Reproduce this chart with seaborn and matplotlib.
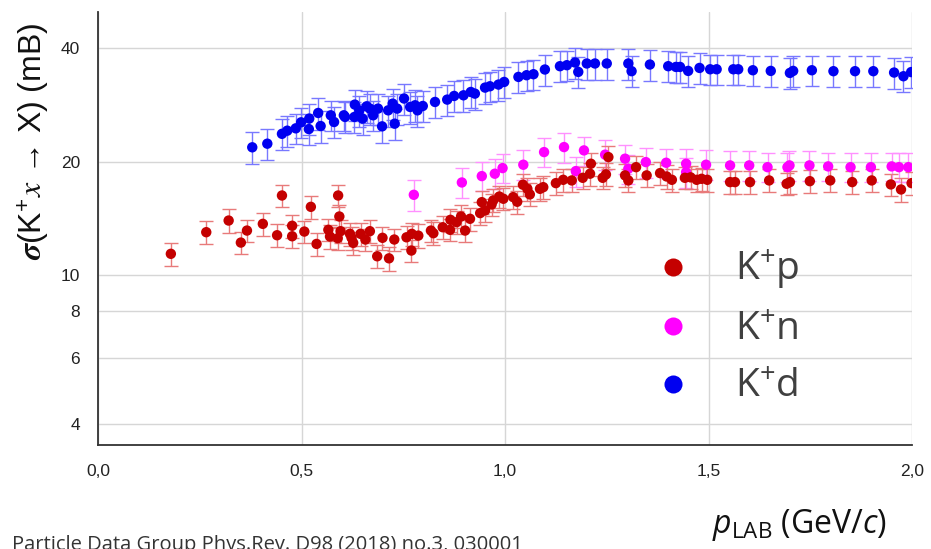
import matplotlib
matplotlib.use("Agg")
import matplotlib.pyplot as plt
import seaborn as sns
import pandas as pd
from matplotlib.lines import Line2D
from matplotlib.ticker import NullLocator

# ---------------- data ----------------
kp_x = [0.179, 0.266, 0.321, 0.351, 0.366, 0.405, 0.440, 0.452, 0.477, 0.477,
        0.507, 0.523, 0.537, 0.566, 0.570, 0.589, 0.590, 0.593, 0.596, 0.619,
        0.623, 0.627, 0.645, 0.657, 0.668, 0.686, 0.699, 0.715, 0.728, 0.758,
        0.770, 0.771, 0.787, 0.818, 0.824, 0.847, 0.865, 0.866, 0.881, 0.892,
        0.902, 0.914, 0.939, 0.943, 0.951, 0.967, 0.971, 0.986, 0.996, 1.020,
        1.030, 1.044, 1.055, 1.061, 1.086, 1.094, 1.125, 1.143, 1.164, 1.191,
        1.209, 1.211, 1.240, 1.248, 1.254, 1.295, 1.303, 1.322, 1.348, 1.381,
        1.397, 1.410, 1.442, 1.456, 1.471, 1.483, 1.497, 1.553, 1.565, 1.602,
        1.649, 1.692, 1.700, 1.749, 1.799, 1.853, 1.901, 1.948, 1.973, 1.999]
kp_y = [11.36, 12.97, 13.93, 12.17, 13.10, 13.65, 12.73, 16.24, 13.49, 12.65,
        13.02, 15.15, 12.07, 13.16, 12.63, 12.50, 16.24, 14.28, 13.05, 12.84,
        12.53, 12.15, 12.84, 12.40, 13.05, 11.19, 12.53, 11.05, 12.40, 12.57,
        11.59, 12.84, 12.70, 13.10, 12.89, 13.37, 13.16, 13.99, 13.79, 14.28,
        13.10, 14.08, 14.58, 15.59, 14.82, 15.37, 15.75, 16.14, 15.92, 16.08,
        15.63, 17.35, 16.92, 16.35, 16.92, 17.09, 17.52, 17.88, 17.81, 18.10,
        18.56, 19.73, 18.10, 18.48, 20.55, 18.37, 17.81, 19.32, 18.37, 18.63,
        18.25, 17.88, 18.10, 18.15, 17.88, 17.99, 17.88, 17.63, 17.63, 17.63,
        17.81, 17.45, 17.63, 17.73, 17.81, 17.63, 17.81, 17.38, 16.85, 17.52]
kp_err = [0.8, 0.9, 1.0, 0.85, 0.9, 0.95, 0.9, 1.1, 0.95, 0.9,
          0.9, 1.05, 0.85, 0.9, 0.9, 0.9, 1.1, 1.0, 0.9, 0.9,
          0.9, 0.85, 0.9, 0.85, 0.9, 0.8, 0.9, 0.8, 0.85, 0.9,
          0.8, 0.9, 0.9, 0.9, 0.9, 0.95, 0.9, 1.0, 0.95, 1.0,
          0.9, 1.0, 1.0, 1.1, 1.05, 1.05, 1.1, 1.1, 1.1, 1.1,
          1.1, 1.2, 1.2, 1.15, 1.2, 1.2, 1.2, 1.25, 1.25, 1.25,
          1.3, 1.4, 1.25, 1.3, 1.45, 1.3, 1.25, 1.35, 1.3, 1.3,
          1.3, 1.25, 1.25, 1.25, 1.25, 1.25, 1.25, 1.25, 1.25, 1.25,
          1.25, 1.2, 1.25, 1.25, 1.25, 1.25, 1.25, 1.2, 1.2, 1.2]

kd_x = [0.379, 0.416, 0.452, 0.465, 0.486, 0.499, 0.518, 0.519, 0.541, 0.547,
        0.572, 0.580, 0.604, 0.607, 0.630, 0.631, 0.642, 0.650, 0.660, 0.668,
        0.676, 0.688, 0.698, 0.713, 0.724, 0.729, 0.735, 0.752, 0.767, 0.779,
        0.785, 0.798, 0.828, 0.858, 0.875, 0.898, 0.916, 0.926, 0.951, 0.963,
        0.984, 0.998, 1.033, 1.053, 1.070, 1.098, 1.135, 1.152, 1.172, 1.180,
        1.201, 1.221, 1.250, 1.303, 1.311, 1.356, 1.401, 1.420, 1.430, 1.450,
        1.478, 1.504, 1.520, 1.561, 1.573, 1.609, 1.653, 1.700, 1.708, 1.754,
        1.807, 1.860, 1.905, 1.956, 1.979, 1.998]
kd_y = [21.82, 22.31, 23.70, 24.16, 24.51, 25.43, 24.40, 26.02, 26.93, 24.86,
        26.55, 25.48, 26.55, 26.28, 26.28, 28.35, 27.37, 26.02, 28.05, 27.66,
        26.55, 27.66, 24.81, 27.37, 28.52, 25.22, 27.66, 29.42, 27.94, 28.23,
        27.37, 28.11, 28.81, 29.23, 29.89, 30.01, 30.63, 30.32, 31.46, 31.72,
        32.05, 32.57, 33.59, 33.94, 34.15, 35.15, 35.87, 36.09, 36.69, 34.64,
        36.47, 36.47, 36.47, 36.47, 34.79, 36.24, 35.87, 35.71, 35.71, 34.85,
        35.49, 35.20, 35.20, 35.20, 35.20, 34.99, 34.85, 34.42, 34.85, 34.99,
        34.79, 34.79, 34.79, 34.50, 33.73, 34.60]
kd_err = [2.1, 2.1, 2.2, 2.3, 2.3, 2.4, 2.3, 2.5, 2.6, 2.4,
          2.5, 2.4, 2.5, 2.5, 2.5, 2.7, 2.6, 2.5, 2.7, 2.6,
          2.5, 2.6, 2.4, 2.6, 2.7, 2.4, 2.6, 2.8, 2.7, 2.7,
          2.6, 2.7, 2.7, 2.8, 2.8, 2.9, 2.9, 2.9, 3.0, 3.0,
          3.0, 3.1, 3.2, 3.2, 3.2, 3.3, 3.4, 3.4, 3.5, 3.3,
          3.5, 3.5, 3.5, 3.5, 3.3, 3.4, 3.4, 3.4, 3.4, 3.3,
          3.4, 3.3, 3.3, 3.3, 3.3, 3.3, 3.3, 3.3, 3.3, 3.3,
          3.3, 3.3, 3.3, 3.3, 3.2, 3.3]

kn_x = [0.776, 0.894, 0.943, 0.975, 0.994, 1.045, 1.096, 1.145, 1.174, 1.194,
        1.246, 1.295, 1.303, 1.346, 1.396, 1.445, 1.445, 1.494, 1.553, 1.600,
        1.645, 1.694, 1.699, 1.748, 1.794, 1.849, 1.899, 1.950, 1.968, 1.991]
kn_y = [16.31, 17.59, 18.29, 18.56, 19.21, 19.61, 21.19, 21.85, 18.86, 21.41,
        20.86, 20.35, 19.13, 19.93, 19.85, 19.73, 18.74, 19.61, 19.53, 19.53,
        19.32, 19.32, 19.53, 19.53, 19.41, 19.32, 19.32, 19.41, 19.32, 19.32]
kn_err = [1.5, 1.6, 1.6, 1.7, 1.7, 1.8, 1.9, 2.0, 1.7, 1.9,
          1.9, 1.8, 1.7, 1.8, 1.8, 1.8, 1.7, 1.8, 1.8, 1.8,
          1.7, 1.7, 1.8, 1.8, 1.7, 1.7, 1.7, 1.7, 1.7, 1.7]

series_names = ["K$^{\\mathregular{+}}$p", "K$^{\\mathregular{+}}$n", "K$^{\\mathregular{+}}$d"]
xticks = [0.0, 0.5, 1.0, 1.5, 2.0]
xtick_labels = ["0,0", "0,5", "1,0", "1,5", "2,0"]
xminor = [1/6, 2/6, 4/6, 5/6, 7/6, 8/6, 10/6, 11/6]
yticks = [4, 6, 8, 10, 20, 40]
ytick_labels = ["4", "6", "8", "10", "20", "40"]

# ---------------- style ----------------
sns.set_theme(style="white")
plt.rcParams["font.family"] = ["Liberation Sans", "DejaVu Sans"]
plt.rcParams["mathtext.fontset"] = "custom"
plt.rcParams["mathtext.rm"] = "Open Sans"
plt.rcParams["mathtext.it"] = "Open Sans:italic"
plt.rcParams["mathtext.bf"] = "Open Sans:bold"

point_colors = {"p": "#c40000", "n": "#ff00ff", "d": "#0000f0"}
bar_colors = {"p": "#e87a7a", "n": "#ff90ff", "d": "#7878ff"}

fig = plt.figure(figsize=(9.31, 5.49), dpi=100)
ax = fig.add_axes([98 / 931, 1 - 445 / 549, 814 / 931, 433 / 549])

df = pd.concat([
    pd.DataFrame({"x": kn_x, "y": kn_y, "e": kn_err, "s": "n"}),
    pd.DataFrame({"x": kp_x, "y": kp_y, "e": kp_err, "s": "p"}),
    pd.DataFrame({"x": kd_x, "y": kd_y, "e": kd_err, "s": "d"}),
], ignore_index=True)

for key in ["n", "p", "d"]:
    sub = df[df["s"] == key]
    ax.errorbar(sub["x"], sub["y"], yerr=sub["e"], fmt="none",
                ecolor=bar_colors[key], elinewidth=1.0, capsize=5,
                capthick=1.0, zorder=2)

sns.scatterplot(data=df, x="x", y="y", hue="s", palette=point_colors,
                s=56, edgecolor="none", linewidth=0, legend=False, ax=ax,
                zorder=3)

ax.set_yscale("log")
ax.set_xlim(0, 2.0)
ax.set_ylim(3.52, 50)
ax.set_xticks(xticks)
ax.set_xticklabels(xtick_labels)
ax.set_xticks(xminor, minor=True)
ax.set_yticks(yticks)
ax.set_yticklabels(ytick_labels)
ax.yaxis.set_minor_locator(NullLocator())
ax.set_xlabel("")
ax.set_ylabel("")

ax.grid(True, which="major", color="#d6d6d6", linewidth=1.0)
ax.set_axisbelow(True)
for side in ["top", "right"]:
    ax.spines[side].set_visible(False)
for side in ["left", "bottom"]:
    ax.spines[side].set_color("#333333")
    ax.spines[side].set_linewidth(1.3)

ax.tick_params(axis="both", which="major", length=0, labelsize=12.5,
               labelcolor="#222222")
ax.tick_params(axis="x", which="major", pad=14)
ax.tick_params(axis="y", which="major", pad=13)
ax.tick_params(axis="x", which="minor", direction="inout", length=4,
               width=1.0, color="#333333")

# legend
handles = [Line2D([], [], marker="o", ls="none", markersize=13,
                  markerfacecolor=point_colors[k], markeredgewidth=0)
           for k in ["p", "n", "d"]]
ax.legend(handles, series_names, loc="center left",
          bbox_to_anchor=((653.5 - 98) / 814, (445 - 327) / 433),
          frameon=False, prop={"family": "Open Sans", "size": 28},
          labelcolor="#404040", handlelength=1.0, handletextpad=1.09,
          labelspacing=0.5, borderpad=0, borderaxespad=0)

# axis titles
fig.text(33 / 931, 1 - 141 / 549,
         r"$\boldsymbol{\sigma}$(K$^{\mathregular{+}}$$x$ → X) (mB)",
         rotation=90, ha="center", va="center", fontsize=23,
         family="Liberation Sans", math_fontfamily="stix", color="#111111")
fig.text(712 / 931, 1 - 533 / 549,
         r"$\mathit{p}_{\mathregular{LAB}}$ (GeV/$\mathit{c}$)",
         ha="left", va="baseline", fontsize=23, family="Open Sans",
         color="#111111")
fig.text(12 / 931, 1 - 550 / 549,
         "Particle Data Group Phys.Rev. D98 (2018) no.3, 030001",
         ha="left", va="baseline", fontsize=14.5, family="Open Sans",
         color="#333333")

fig.savefig("out.png", dpi=100)
